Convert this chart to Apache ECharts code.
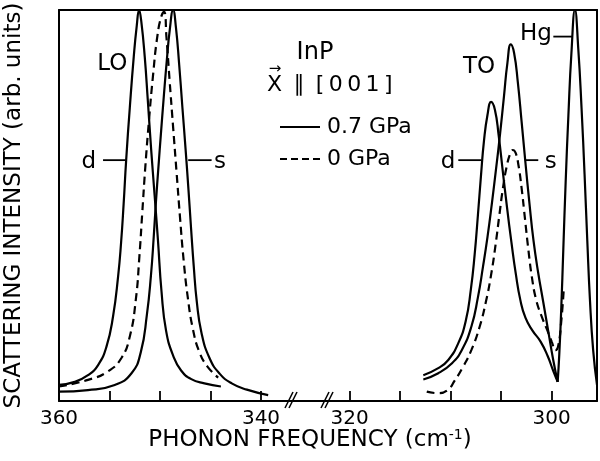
<!DOCTYPE html>
<html>
<head>
<meta charset="utf-8">
<script src="https://cdn.jsdelivr.net/npm/echarts@6/dist/echarts.min.js"></script>
<style>html,body{margin:0;padding:0;background:#fff;}#c{width:600px;height:461px;}</style>
</head>
<body>
<div id="c"></div>
<script>
// ---- data (x: phonon frequency cm^-1, y: intensity arb. units 0..100) ----
const loSolidD = [[360.0,4.1],[358.44,4.9],[357.13,6.6],[356.13,9.2],[355.30,13.9],[354.65,21.6],[354.15,31.8],[353.85,40.6],[353.60,50.4],[353.35,61.6],[352.99,75.0],[352.60,88.0],[352.30,96.0],[352.07,100],[351.85,97.0],[351.51,88.0],[351.21,77.0],[350.88,64.5],[350.53,52.5],[350.20,41.0],[349.85,28.0],[349.40,18.0],[348.70,11.6],[347.91,7.8],[346.90,5.6],[345.60,4.5],[343.97,3.7]];
const loSolidS = [[360.0,2.4],[357.13,2.8],[354.48,4.1],[352.82,7.1],[351.90,12.5],[351.30,22.0],[350.90,32.0],[350.62,42.0],[350.40,51.0],[350.15,60.0],[349.92,68.0],[349.62,78.0],[349.33,87.0],[349.03,95.0],[348.70,100],[348.42,95.5],[348.10,86.0],[347.78,75.0],[347.47,64.5],[347.18,54.0],[346.92,44.0],[346.66,34.5],[346.36,25.5],[345.90,17.5],[345.10,11.0],[344.10,7.0],[342.90,4.5],[341.40,2.9],[339.29,1.5]];
const loDashed = [[360.0,3.7],[357.13,5.4],[355.14,7.6],[353.82,11.0],[352.99,16.5],[352.40,25.8],[352.04,37.0],[351.76,48.0],[351.45,60.0],[351.10,71.5],[350.70,83.0],[350.25,93.5],[349.85,98.5],[349.59,99.5],[349.36,93.0],[349.05,82.0],[348.70,70.0],[348.36,58.5],[348.02,47.0],[347.66,36.0],[347.25,26.5],[346.75,18.5],[346.10,12.5],[345.30,8.8],[344.24,6.0]];
const toSolidD = [[312.70,6.6],[311.22,8.4],[310.23,10.5],[309.24,14.8],[308.50,20.5],[308.00,28.5],[307.62,37.5],[307.30,47.5],[307.00,57.5],[306.70,66.5],[306.35,73.2],[306.00,76.5],[305.62,74.5],[305.25,68.0],[304.85,59.0],[304.42,49.5],[303.98,40.5],[303.55,32.5],[303.10,25.8],[302.60,21.3],[301.90,18.0],[301.10,15.2],[300.40,11.5],[299.85,7.7],[299.41,4.9]];
const toSolidS = [[312.70,5.5],[311.22,7.1],[309.89,9.6],[308.90,13.0],[307.95,19.0],[307.30,26.5],[306.80,34.3],[306.35,42.0],[305.92,50.5],[305.50,59.5],[305.10,68.5],[304.72,78.0],[304.38,86.5],[304.05,91.2],[303.72,89.0],[303.35,81.5],[302.98,71.5],[302.60,61.0],[302.20,50.5],[301.80,41.0],[301.35,33.0],[300.85,25.5],[300.35,18.0],[299.85,10.5],[299.41,4.9]];
const hgSolid = [[299.41,4.9],[299.25,12.0],[299.05,24.0],[298.85,39.0],[298.62,56.0],[298.35,73.0],[298.05,89.0],[297.70,100],[297.37,90.0],[297.05,75.0],[296.75,58.0],[296.48,41.0],[296.22,26.0],[295.90,13.0],[295.52,4.1]];
const toDashed = [[312.36,2.4],[311.22,2.0],[310.30,2.8],[309.60,5.2],[308.80,8.6],[307.95,13.0],[307.15,18.8],[306.50,25.5],[305.98,32.5],[305.55,40.0],[305.18,47.5],[304.82,54.5],[304.45,60.0],[304.10,63.3],[303.85,64.2],[303.58,63.5],[303.30,60.5],[302.98,54.5],[302.64,46.5],[302.30,38.5],[301.95,31.5],[301.55,26.0],[301.05,22.0],[300.50,18.5],[300.00,15.2],[299.62,13.0],[299.35,14.2],[299.05,20.5],[298.80,29.0]];

const leftTicks = [360,355,350,345,340];
const leftTickLabels = [360,340];
const rightTicks = [320,315,310,305,300];
const rightTickLabels = [320,300];

const leftNotes = [[354.73,86.2,'LO'],[357.06,61.1,'d'],[344.07,61.1,'s']];
const rightNotes = [[307.19,85.4,'TO'],[301.57,93.9,'Hg'],[310.26,61.1,'d'],[300.09,61.1,'s']];
const leftLeaders = [[355.64,353.40,61.6],[347.21,344.89,61.6]];
const rightLeaders = [[309.24,306.95,61.6],[302.55,301.33,61.6],[299.84,297.95,93.2]];

const legendNames = ['0.7 GPa','0 GPa'];
const xTitle = 'PHONON FREQUENCY (cm';
const yTitle = 'SCATTERING INTENSITY (arb. units)';

// ---- chart ----
const FONT = 'DejaVu Sans';
const BLACK = '#000';
const chart = echarts.init(document.getElementById('c'), null, {renderer:'canvas'});

function solid(name, data, g){ return {type:'line', name:name, xAxisIndex:g, yAxisIndex:g, data:data, symbol:'none', smooth:0.5, lineStyle:{color:BLACK, width:2.2, type:'solid'}, itemStyle:{color:BLACK}, silent:true, z:3}; }
function dashed(name, data, g){ return {type:'line', name:name, xAxisIndex:g, yAxisIndex:g, data:data, symbol:'none', smooth:0.5, lineStyle:{color:BLACK, width:2.2, type:[8,5]}, itemStyle:{color:BLACK}, silent:true, z:3}; }
function leader(seg, g){ return {type:'line', name:'leader', xAxisIndex:g, yAxisIndex:g, data:[[seg[0],seg[2]],[seg[1],seg[2]]], symbol:'none', lineStyle:{color:BLACK, width:1.8}, silent:true}; }
function notes(data, g){ return {type:'scatter', name:'notes', xAxisIndex:g, yAxisIndex:g, data:data, symbolSize:0, silent:true, itemStyle:{opacity:1, color:BLACK},
  label:{show:true, position:[0,0], align:'center', verticalAlign:'middle', formatter:p=>p.value[2], color:BLACK, opacity:1, fontSize:23, fontFamily:FONT}}; }

function xAx(g, min, max, ticks, labels, pos){
  const top = pos === 'top';
  return {gridIndex:g, type:'value', inverse:true, min:min, max:max, position:pos,
    axisLine:{show:true, onZero:false, lineStyle:{color:BLACK, width:2}},
    axisTick:{show:!top, inside:true, length:10, customValues:ticks, lineStyle:{color:BLACK, width:1.8}},
    axisLabel:{show:!top, customValues:labels, margin:8, color:BLACK, fontSize:20, fontFamily:FONT, showMinLabel:true, showMaxLabel:true},
    splitLine:{show:false}};
}

const solidIcon = 'path://M0,0H40V2H0Z';
const dashIcon = 'path://M0,0H7V2H0Z M11,0H18V2H11Z M22,0H29V2H22Z M33,0H40V2H33Z';
const TS = '\u2009';

const option = {
  backgroundColor:'#fff',
  animation:false,
  grid:[{left:59, top:10, width:252.5, height:391},{left:311.5, top:10, width:285.5, height:391}],
  xAxis:[
    xAx(0, 335, 360, leftTicks, leftTickLabels, 'bottom'),
    xAx(1, 295.52, 323.76, rightTicks, rightTickLabels, 'bottom'),
    xAx(0, 335, 360, leftTicks, leftTickLabels, 'top'),
    xAx(1, 295.52, 323.76, rightTicks, rightTickLabels, 'top')
  ],
  yAxis:[
    {gridIndex:0, type:'value', min:0, max:100, position:'left', axisLine:{show:true, lineStyle:{color:BLACK, width:2}}, axisTick:{show:false}, axisLabel:{show:false}, splitLine:{show:false},
      name:yTitle, nameLocation:'middle', nameGap:33, nameTextStyle:{color:BLACK, fontSize:23, fontFamily:FONT}},
    {gridIndex:1, type:'value', min:0, max:100, position:'right', axisLine:{show:true, lineStyle:{color:BLACK, width:2}}, axisTick:{show:false}, axisLabel:{show:false}, splitLine:{show:false}}
  ],
  legend:{data:[{name:legendNames[0], icon:solidIcon},{name:legendNames[1], icon:dashIcon}], orient:'vertical', left:275, top:111, itemWidth:40, itemHeight:2, itemGap:10, selectedMode:false,
    itemStyle:{color:BLACK, borderWidth:0}, textStyle:{color:BLACK, fontSize:22, fontFamily:FONT, padding:[0,0,0,2]}},
  graphic:[
    {type:'text', x:315, y:53, style:{text:'InP', fill:BLACK, font:'24px "DejaVu Sans"', textAlign:'center', textVerticalAlign:'middle'}},
    {type:'text', x:267, y:85, style:{text:'X'+TS+' \u2225 '+TS+'['+TS+'0'+TS+'0'+TS+'1'+TS+']', fill:BLACK, font:'22px "DejaVu Sans"', textAlign:'left', textVerticalAlign:'middle'}},
    {type:'text', x:275, y:69, style:{text:'\u2192', fill:BLACK, font:'15px "DejaVu Sans"', textAlign:'center', textVerticalAlign:'middle'}},
    {type:'text', x:310, y:440, style:{text:'{m|'+xTitle+'}{s|-1}{m|)}', fill:BLACK, textAlign:'center', textVerticalAlign:'middle',
      rich:{m:{fontSize:23, fontFamily:FONT, fill:BLACK}, s:{fontSize:14, fontFamily:FONT, fill:BLACK, verticalAlign:'top', padding:[0,0,10,0]}}}},
    {type:'polyline', shape:{points:[[285,408],[293,392]]}, style:{stroke:BLACK, lineWidth:1.6}},
    {type:'polyline', shape:{points:[[289,408],[297,392]]}, style:{stroke:BLACK, lineWidth:1.6}},
    {type:'polyline', shape:{points:[[321,408],[329,392]]}, style:{stroke:BLACK, lineWidth:1.6}},
    {type:'polyline', shape:{points:[[325,408],[333,392]]}, style:{stroke:BLACK, lineWidth:1.6}}
  ],
  series:[
    solid('0.7 GPa', loSolidD, 0),
    solid('0.7 GPa', loSolidS, 0),
    dashed('0 GPa', loDashed, 0),
    solid('0.7 GPa', toSolidD, 1),
    solid('0.7 GPa', toSolidS, 1),
    solid('0.7 GPa', hgSolid, 1),
    dashed('0 GPa', toDashed, 1),
    leader(leftLeaders[0],0), leader(leftLeaders[1],0),
    leader(rightLeaders[0],1), leader(rightLeaders[1],1), leader(rightLeaders[2],1),
    notes(leftNotes,0), notes(rightNotes,1)
  ]
};
chart.setOption(option);
</script>
</body>
</html>
